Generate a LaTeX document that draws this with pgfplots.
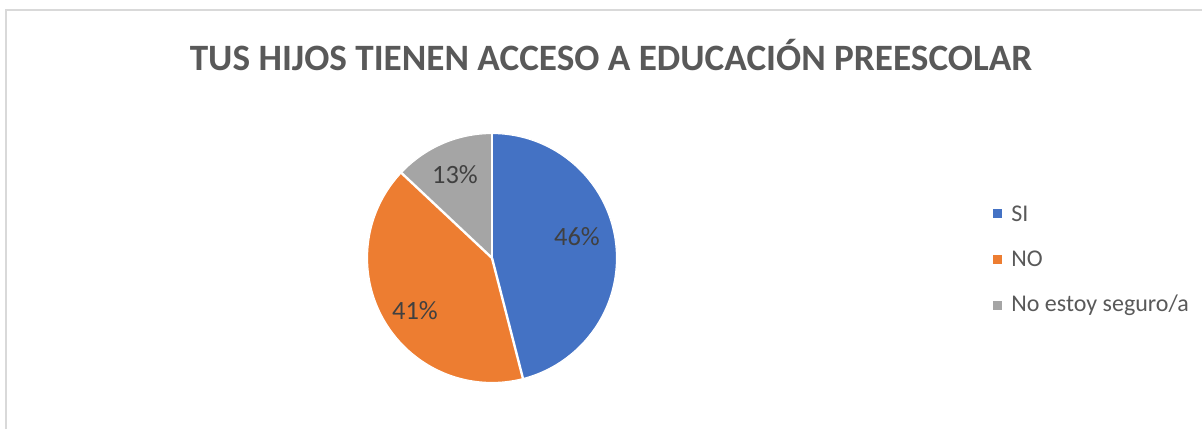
\documentclass[border=0pt]{standalone}
\usepackage{fontspec}
\setmainfont{Carlito}
\usepackage{pgfplots}
\pgfplotsset{compat=1.18}
\usepackage{pgfplotstable}
\definecolor{cblue}{HTML}{4472C4}
\definecolor{corange}{HTML}{ED7D31}
\definecolor{cgray}{HTML}{A5A5A5}
\definecolor{frame}{HTML}{D9D9D9}
\definecolor{titlec}{HTML}{595959}
\definecolor{labc}{HTML}{404040}

\pgfplotstableread{
label value
SI 46
NO 41
Unsure 13
}\piedata

\pgfplotstablegetelem{0}{value}\of\piedata \let\vA\pgfplotsretval
\pgfplotstablegetelem{1}{value}\of\piedata \let\vB\pgfplotsretval
\pgfplotstablegetelem{2}{value}\of\piedata \let\vC\pgfplotsretval
\pgfmathsetmacro{\aZ}{90}
\pgfmathsetmacro{\aA}{\aZ-3.6*\vA}
\pgfmathsetmacro{\aB}{\aA-3.6*\vB}
\pgfmathsetmacro{\aC}{\aB-3.6*\vC}
\def\R{62.25pt}

\begin{document}
\begin{tikzpicture}
\begin{axis}[scale only axis, width=601pt, height=214.5pt,
  xmin=0, xmax=1202, ymin=-429, ymax=0, hide axis, clip=false]
\coordinate (C) at (axis cs:492,-258);
\fill[cblue] (C) -- ++(\aZ:\R) arc[start angle=\aZ, end angle=\aA, radius=\R] -- cycle;
\fill[corange] (C) -- ++(\aA:\R) arc[start angle=\aA, end angle=\aB, radius=\R] -- cycle;
\fill[cgray] (C) -- ++(\aB:\R) arc[start angle=\aB, end angle=\aC, radius=\R] -- cycle;
\draw[white, line width=1.2pt] (C) -- ++(\aZ:\R+1pt);
\draw[white, line width=1.2pt] (C) -- ++(\aA:\R+1pt);
\draw[white, line width=1.2pt] (C) -- ++(\aB:\R+1pt);
\draw[white, line width=0.6pt] (C) circle[radius=\R];

\node[text=labc, inner sep=0pt, font=\fontsize{13.2}{15}\selectfont] at (axis cs:577,-237) {46\%};
\node[text=labc, inner sep=0pt, font=\fontsize{13.2}{15}\selectfont] at (axis cs:415,-311) {41\%};
\node[text=labc, inner sep=0pt, font=\fontsize{13.2}{15}\selectfont] at (axis cs:455,-175) {13\%};

\node[text=titlec, inner sep=0pt, font=\fontsize{18.6}{22}\selectfont\bfseries] at (axis cs:611,-55) {TUS HIJOS TIENEN ACCESO A EDUCACIÓN PREESCOLAR};

\fill[cblue] (axis cs:993,-209.5) rectangle (axis cs:1002,-218.5);
\fill[corange] (axis cs:993,-254.5) rectangle (axis cs:1002,-263.5);
\fill[cgray] (axis cs:993,-300.5) rectangle (axis cs:1002,-309.5);
\node[text=titlec, anchor=west, inner sep=0pt, font=\fontsize{12}{14}\selectfont] at (axis cs:1011,-214) {SI};
\node[text=titlec, anchor=west, inner sep=0pt, font=\fontsize{12}{14}\selectfont] at (axis cs:1011,-259) {NO};
\node[text=titlec, anchor=west, inner sep=0pt, font=\fontsize{12}{14}\selectfont] at (axis cs:1011,-305) {No estoy seguro/a};

\draw[frame, line width=1pt] (axis cs:5.5,-429) -- (axis cs:5.5,-10.5) -- (axis cs:1202,-10.5);
\end{axis}
\pgfresetboundingbox
\path (current axis.south west) rectangle (current axis.north east);
\end{tikzpicture}
\end{document}
